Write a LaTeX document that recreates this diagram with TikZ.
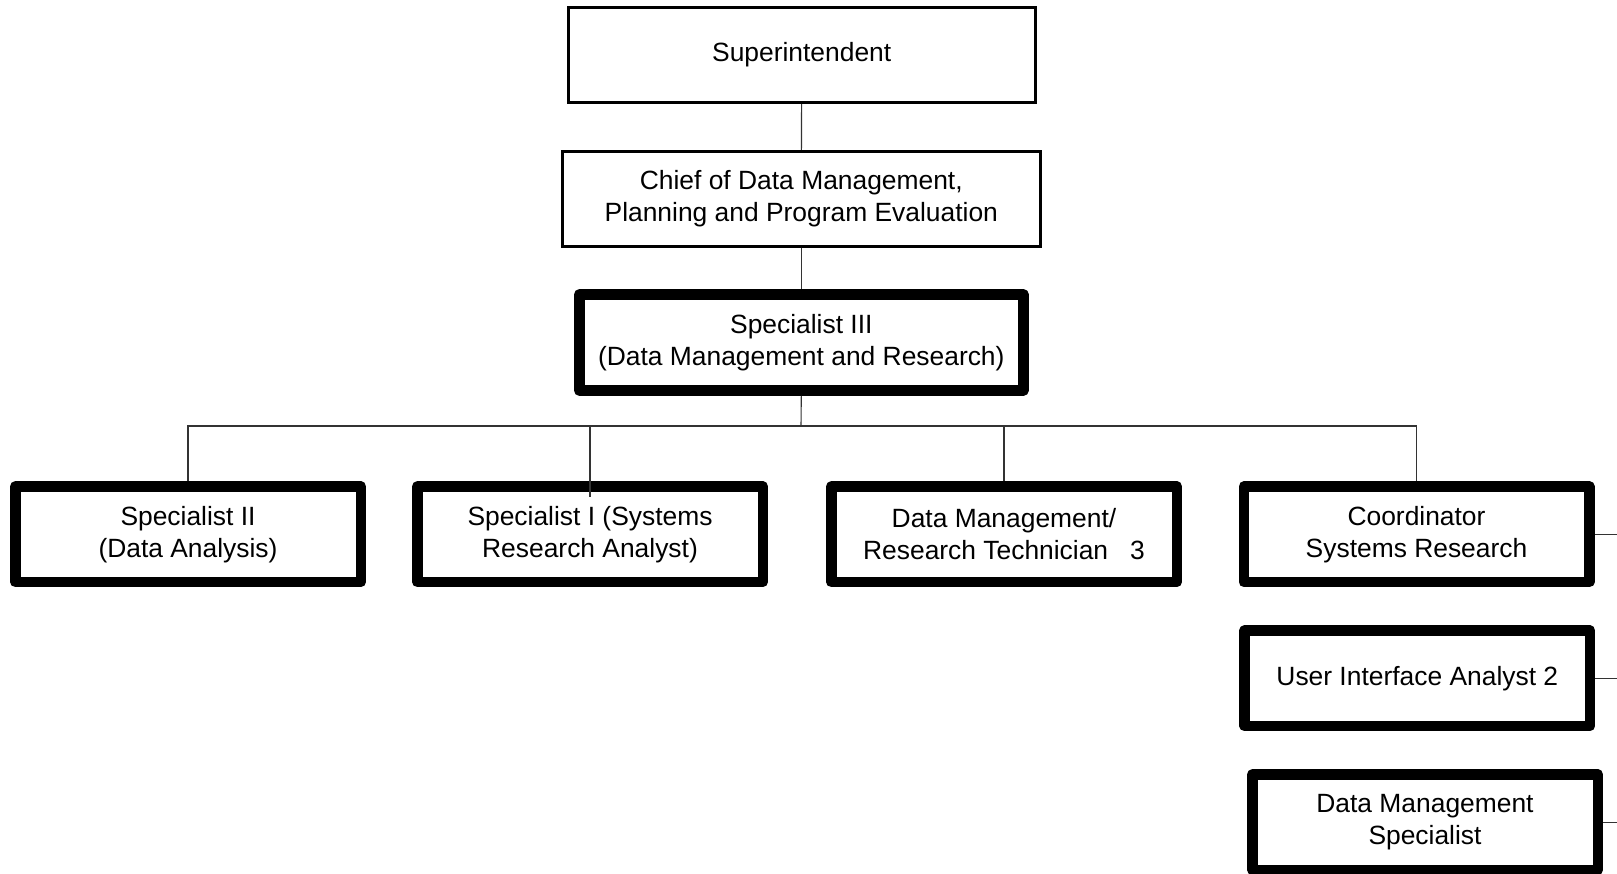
\documentclass[tikz,border=0pt]{standalone}
\usepackage{fontspec}
\setmainfont{Liberation Sans}
\usepackage{tikz}
\usetikzlibrary{
  positioning,
  calc
}

\tikzset{
  post/.style={draw,line width=3pt,align=center,inner sep=0pt,
    minimum height=95pt,font=\fontsize{26.4}{32}\selectfont},
  keypost/.style={post,line width=10.5pt,line join=round,
    minimum width=345.5pt,minimum height=95.5pt},
  link/.style={line width=1.1pt,black!80}
}

\begin{document}
\begin{tikzpicture}[x=1pt,y=-1pt]
  % 図の範囲
  \useasboundingbox (0,0) rectangle (1617,873);

  % 上位の役職
  \node[post,minimum width=467pt] (sup) at (801.7,55) {Superintendent};
  \node[post,minimum width=478pt,minimum height=94.7pt] (chief) at (801.3,198.8)
    {Chief of Data Management,\\Planning and Program Evaluation};
  \node[keypost,minimum width=444pt,minimum height=96pt] (spec3) at (801.3,342.5)
    {Specialist III\\(Data Management and Research)};

  % 下位の役職
  \node[keypost] (spec2) at (188,534.3) {Specialist II\\(Data Analysis)};
  \node[keypost] (spec1) at (590,534.3) {Specialist I (Systems\\Research Analyst)};
  \node[keypost] (tech) at (1004,534.3) {Data Management/\\Research Technician~~~3};
  \node[keypost] (coord) at (1416.5,534.3) {Coordinator\\Systems Research};
  \node[keypost] (uia) at (1417.3,678.3) {User Interface Analyst 2};
  \node[keypost] (dms) at (1425,822.3) {Data Management\\Specialist};

  % 接続線
  \coordinate (bus) at (801,426);
  \coordinate (edge) at (1617,0);
  \draw[link] (sup) -- (chief);
  \draw[link] (chief) -- (spec3);
  \draw[link] (spec3.south) -- (bus);
  \draw[link] (spec2.north) |- (bus) -| (coord.north);
  \draw[link] (bus -| spec1) -- ($(spec1.north)+(0,16)$);
  \draw[link] (bus -| tech) -- (tech.north);

  % 右端の線
  \draw[link] (coord.east) -- (coord.east -| edge);
  \draw[link] (uia.east) -- (uia.east -| edge);
  \draw[link] (dms.east) -- (dms.east -| edge);
\end{tikzpicture}
\end{document}
